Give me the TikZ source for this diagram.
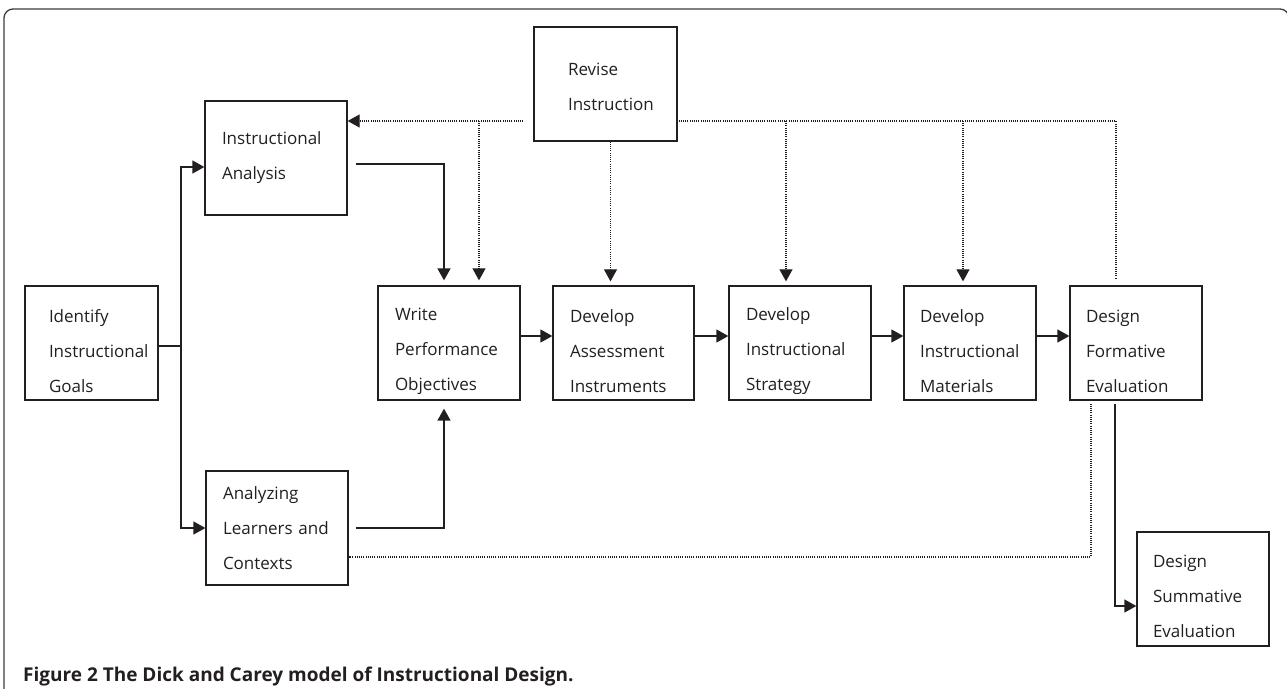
\documentclass[tikz,border=0pt]{standalone}
\usepackage{fontspec}
\setmainfont{Open Sans}[Ligatures={NoCommon}]
\usetikzlibrary{arrows.meta, calc}
\definecolor{ink}{RGB}{35, 31, 32}
\definecolor{framegray}{RGB}{60, 60, 60}
\newcommand{\boxfont}{\fontsize{17}{35}\selectfont}

\begin{document}
\begin{tikzpicture}[x=1pt, y=-1pt,
  stepbox/.style={draw=ink, line width=1.3pt, minimum height=114pt, inner xsep=17pt, text width=108pt, align=left, text=ink, font=\boxfont},
  narrowbox/.style={stepbox, inner xsep=16pt, text width=100pt},
  lowtext/.style={execute at begin node={\rule{0pt}{#1}}},
  lowtext/.default=29pt,
  flowline/.style={draw=ink, line width=1.4pt},
  flowarrow/.style={flowline, -{Triangle[length=12pt, width=13pt]}},
  revline/.style={draw=ink, line width=1.1pt, dash pattern=on 1pt off 1.2pt},
  revarrow/.style={revline, -{Triangle[length=12pt, width=13pt]}}]
  \useasboundingbox (0,0) rectangle (1287,688);

  % Frame
  \draw[framegray, line width=1.3pt, rounded corners=9pt] (4,700) -- (4,9) -- (1289,9) -- (1289,700);

  % Steps
  \node[stepbox, lowtext, inner xsep=24pt, text width=85pt] (goals) at (91.5,343) {Identify\\Instructional\\Goals};
  \node[stepbox] (anal) at (276,158) {Instructional\\Analysis};
  \node[stepbox] (learn) at (277,528) {Analyzing\\Learners~and\\Contexts};
  \node[stepbox, lowtext] (write) at (449,343) {Write\\Performance\\Objectives};
  \node[stepbox, lowtext, text width=107pt] (assess) at (623.5,343) {Develop\\Assessment\\Instruments};
  \node[stepbox, lowtext] (strat) at (800,343) {Develop\\Instructional\\Strategy};
  \node[narrowbox, lowtext] (mater) at (970,343) {Develop\\Instructional\\Materials};
  \node[narrowbox, lowtext] (form) at (1136,343) {Design\\Formative\\Evaluation};
  \node[narrowbox, lowtext=27pt] (summ) at (1203,589) {Design\\Summative\\Evaluation};
  \node[stepbox, lowtext=19pt, inner xsep=34pt, text width=75pt] (revise) at (605.5,84) {Revise\\Instruction};

  % Caption
  \node[anchor=base west, inner sep=0pt, text=ink, font=\bfseries\fontsize{19}{21}\selectfont] (caption) at (23,681) {Figure 2 The Dick and Carey model of Instructional Design.};

  % Main flow
  \coordinate (split) at (181,346);
  \draw[flowline] (goals.east |- split) -- (split);
  \draw[flowarrow] (split) |- ([yshift=-9pt]anal.west);
  \draw[flowarrow] (split) |- (learn.west);
  \draw[flowarrow, shorten >=5pt] ([shift={(8pt,-6pt)}]anal.east) -| ([xshift=-5pt]write.north);
  \draw[flowarrow, shorten >=8pt] ([xshift=7pt]learn.east) -| ([xshift=-5pt]write.south);
  \foreach \a/\b in {write/assess, assess/strat, strat/mater, mater/form}
    \draw[flowarrow] ([yshift=7pt]\a.east) -- ([yshift=7pt]\b.west);
  \draw[flowarrow] ([shift={(-21pt,-3pt)}]form.south) |- ([yshift=-17pt]summ.west);

  % Revision loop
  \coordinate (fbL) at ([shift={(-10pt,-37pt)}]revise.west);
  \coordinate (fbR) at ([shift={(1pt,-37pt)}]revise.east);
  \draw[revarrow] (fbL) -- (anal.east |- fbL);
  \draw[revarrow, shorten >=5pt] ([xshift=30pt]write.north |- fbL) -- ([xshift=30pt]write.north);
  \draw[revarrow, shorten >=4pt] ([xshift=5pt]revise.south) -- ([xshift=5pt]revise.south |- assess.north);
  \draw[revline] (fbR) -| ([shift={(-20pt,7pt)}]form.north);
  \foreach \b/\dx in {strat/-14, mater/-7}
    \draw[revarrow, shorten >=4pt] ([xshift=\dx pt]\b.north |- fbR) -- ([xshift=\dx pt]\b.north);
  \draw[revline] ([shift={(-45pt,-3pt)}]form.south) |- ([yshift=-29pt]learn.east);
\end{tikzpicture}
\end{document}
